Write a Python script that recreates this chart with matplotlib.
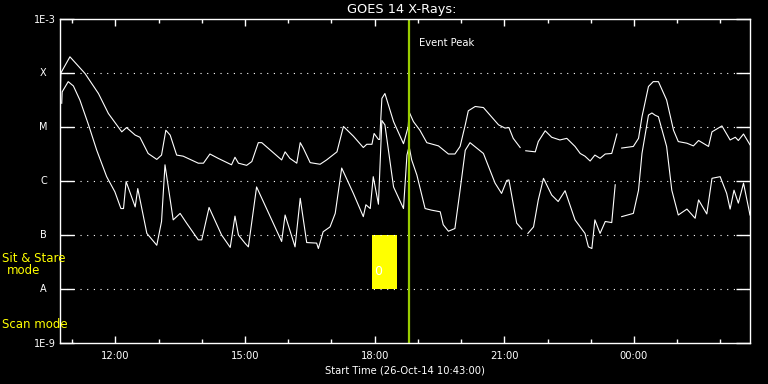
import matplotlib
matplotlib.use("Agg")
import matplotlib.pyplot as plt
import matplotlib.transforms as mtransforms
import numpy as np

# hours after start (26-Oct-14 10:43), log10 of flux in W/m^2; nan = data gap
t_long = [0.0, 0.02, 0.23, 0.58, 0.89, 1.12, 1.43, 1.54, 1.74, 1.85, 2.04, 2.24, 2.35, 2.45, 2.55,
          2.70, 2.85, 3.20, 3.32, 3.47, 3.66, 3.97, 4.05, 4.13, 4.32, 4.44, 4.59, 4.67, 5.13,
          5.21, 5.32, 5.48, 5.56, 5.63, 5.79, 6.02, 6.17, 6.41, 6.56, 6.79, 7.02, 7.10, 7.22,
          7.27, 7.37, 7.40, 7.45, 7.52, 7.72, 7.95, 8.06, 8.08, 8.18, 8.33, 8.49, 8.76, 8.99,
          9.14, 9.26, 9.38, 9.45, 9.61, 9.80, 10.15, 10.30, 10.39, 10.49, 10.65, 10.72, 10.78,
          11.00, 11.07, 11.23, 11.38, 11.57, 11.73, 11.92, 12.04, 12.15, 12.27, 12.38, 12.50,
          12.62, 12.77, 12.89, 12.95, 13.00, 13.27, 13.39, 13.47, 13.62, 13.73, 13.85, 14.04,
          14.20, 14.31, 14.51, 14.66, 14.78, 15.01, 15.09, 15.32, 15.51, 15.63, 15.70, 15.82,
          15.97]
log_long = [-4.60, -4.00, -3.70, -4.01, -4.38, -4.75, -5.09, -5.01, -5.15, -5.19, -5.49, -5.60, -5.52,
            -5.06, -5.15, -5.52, -5.54, -5.67, -5.67, -5.50, -5.58, -5.70, -5.56, -5.67, -5.71,
            -5.64, -5.29, -5.29, -5.61, -5.46, -5.58, -5.67, -5.29, -5.39, -5.66, -5.69, -5.61,
            -5.46, -4.99, -5.17, -5.38, -5.32, -5.32, -5.12, -5.23, -5.23, -4.47, -4.38, -4.90,
            -5.31, -4.99, -4.72, -4.90, -5.06, -5.29, -5.35, -5.50, -5.50, -5.36, -4.96, -4.70,
            -4.62, -4.64, -4.96, -5.02, -5.01, -5.21, -5.38, np.nan, -5.44, -5.46, -5.27, -5.07,
            -5.19, -5.24, -5.21, -5.36, -5.49, -5.54, -5.63, -5.52, -5.58, -5.50, -5.49, -5.13,
            np.nan, -5.39, -5.36, -5.21, -4.81, -4.25, -4.16, -4.16, -4.50, -5.06, -5.27, -5.30,
            -5.35, -5.25, -5.36, -5.09, -4.98, -5.24, -5.19, -5.25, -5.13, -5.33]

t_short = [0.04, 0.05, 0.19, 0.31, 0.46, 0.66, 0.85, 1.08, 1.27, 1.41, 1.47, 1.53, 1.74, 1.80,
           2.01, 2.24, 2.35, 2.43, 2.62, 2.78, 2.93, 3.20, 3.28, 3.45, 3.74, 3.94, 4.05, 4.13,
           4.28, 4.36, 4.55, 5.13, 5.21, 5.44, 5.56, 5.71, 5.94, 5.98, 6.09, 6.25, 6.37, 6.52,
           6.79, 7.02, 7.08, 7.18, 7.25, 7.37, 7.45, 7.52, 7.72, 7.95, 8.03, 8.08, 8.14, 8.26,
           8.45, 8.60, 8.80, 8.87, 8.99, 9.14, 9.26, 9.38, 9.49, 9.80, 10.07, 10.22, 10.34,
           10.39, 10.57, 10.69, 10.76, 10.83, 10.96, 11.07, 11.19, 11.38, 11.53, 11.69, 11.92,
           12.15, 12.23, 12.31, 12.38, 12.50, 12.62, 12.77, 12.85, 12.93, 13.00, 13.27, 13.39,
           13.47, 13.62, 13.70, 13.77, 13.85, 14.04, 14.16, 14.31, 14.51, 14.70, 14.78, 14.97,
           15.09, 15.28, 15.43, 15.51, 15.60, 15.70, 15.82, 15.97]
log_short = [-4.56, -4.35, -4.16, -4.24, -4.50, -4.96, -5.43, -5.92, -6.20, -6.51, -6.51, -6.01,
             -6.48, -6.14, -6.97, -7.19, -6.75, -5.70, -6.72, -6.60, -6.78, -7.09, -7.09, -6.49,
             -7.00, -7.23, -6.65, -7.00, -7.15, -7.22, -6.11, -7.12, -6.63, -7.22, -6.32, -7.14,
             -7.15, -7.25, -6.94, -6.85, -6.60, -5.76, -6.23, -6.66, -6.44, -6.51, -5.92, -6.43,
             -4.88, -4.96, -6.11, -6.51, -5.52, -5.36, -5.61, -5.89, -6.51, -6.54, -6.57, -6.81,
             -6.93, -6.88, -6.17, -5.43, -5.29, -5.49, -6.04, -6.23, -5.99, -5.98, -6.78, -6.89,
             np.nan, -6.97, -6.85, -6.35, -5.95, -6.26, -6.38, -6.18, -6.72, -6.97, -7.22, -7.25,
             -6.72, -6.97, -6.75, -6.77, -6.07, np.nan, -6.66, -6.60, -6.17, -5.49, -4.78, -4.74,
             -4.78, -4.81, -5.36, -6.17, -6.63, -6.52, -6.69, -6.35, -6.61, -5.95, -5.92, -6.23,
             -6.52, -6.17, -6.41, -6.04, -6.63]

class_levels = [1e-8, 1e-7, 1e-6, 1e-5, 1e-4]
class_names = ['A', 'B', 'C', 'M', 'X']
hour_labels = ['12:00', '15:00', '18:00', '21:00', '00:00']
first_label_hour = 77 / 60.0   # 12:00 is 77 min after 10:43
event_peak = 8.08
sit_stare = [7.22, 7.79]

fig = plt.figure(figsize=(7.68, 3.84), dpi=100, facecolor='black')
ax = fig.add_axes([60 / 768, 41 / 384, 690 / 768, 324 / 384], facecolor='black')

ax.plot(t_long, 10 ** np.array(log_long), color='white', lw=0.8)
ax.plot(t_short, 10 ** np.array(log_short), color='white', lw=0.8)

ax.set_yscale('log')
ax.set_ylim(1e-9, 1e-3)
ax.set_xlim(0, 15.97)

for lev in class_levels:
    ax.axhline(lev, color='white', lw=0.8, ls=(0, (1, 5)))

# sit & stare box and event peak marker
ax.fill_between(sit_stare, 1e-8, 1e-7, color='#ffff00', lw=0)
ax.text(sit_stare[0] + 0.04, 10 ** -7.68, '0', color='white', fontsize=9, va='center')
ax.axvline(event_peak, color='#99cc00', lw=1.6)
ax.text(event_peak + 0.24, 10 ** -3.44, 'Event Peak', color='white', fontsize=7.2, va='center')

for s in ax.spines.values():
    s.set_color('white')
    s.set_linewidth(1.0)

ax.set_yticks([1e-9, 1e-3] + class_levels)
ax.set_yticklabels(['1E-9', '1E-3', '', '', '', '', ''])
ax.yaxis.set_minor_locator(matplotlib.ticker.NullLocator())
ax.tick_params(axis='y', which='major', direction='in', length=10, width=1, color='white',
               labelcolor='white', labelsize=7, pad=3, right=True)
trans = mtransforms.blended_transform_factory(ax.transAxes, ax.transData)
for lev, name in zip(class_levels, class_names):
    ax.text(-0.024, lev, name, transform=trans, color='white', fontsize=7,
            ha='center', va='center')

ax.set_xticks([first_label_hour + 3 * i for i in range(5)])
ax.set_xticklabels(hour_labels)
ax.set_xticks(np.arange(first_label_hour - 1, 16, 1.0), minor=True)
ax.tick_params(axis='x', which='major', direction='in', length=5, width=1, color='white',
               labelcolor='white', labelsize=7.2, pad=6, top=True)
ax.tick_params(axis='x', which='minor', direction='in', length=3, width=1, color='white',
               top=True)
ax.set_xlabel('Start Time (26-Oct-14 10:43:00)', color='white', fontsize=7.2, labelpad=3)

fig.text(402 / 768, 1 - 9 / 384, 'GOES 14 X-Rays:', color='white', fontsize=9.3,
         ha='center', va='center')
fig.text(2 / 768, 1 - 259 / 384, 'Sit & Stare', color='#ffff00', fontsize=8.5, va='center')
fig.text(24 / 768, 1 - 271 / 384, 'mode', color='#ffff00', fontsize=8.5, va='center', ha='center')
fig.text(2 / 768, 1 - 324 / 384, 'Scan mode', color='#ffff00', fontsize=8.5, va='center')

fig.savefig('out.png', dpi=100, facecolor='black')
